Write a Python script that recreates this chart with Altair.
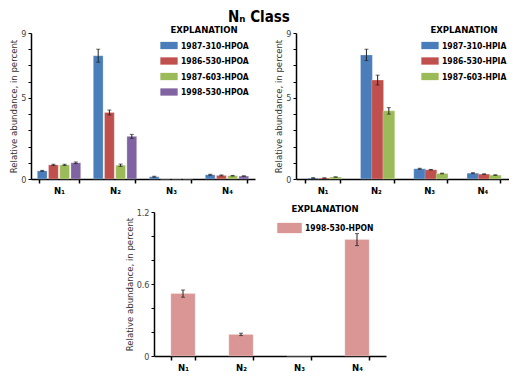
import altair as alt
import pandas as pd

categories = ["N₁", "N₂", "N₃", "N₄"]

hpoa_series = ["1987-310-HPOA", "1986-530-HPOA", "1987-603-HPOA", "1998-530-HPOA"]
hpoa_colors = ["#4a7ebb", "#c0504d", "#9bbb59", "#8064a2"]
hpoa_values = [
    [0.50, 7.60, 0.14, 0.26],
    [0.87, 4.10, 0.00, 0.22],
    [0.87, 0.85, 0.00, 0.20],
    [1.00, 2.63, 0.00, 0.18],
]
hpoa_errors = [
    [0.03, 0.40, 0.03, 0.03],
    [0.04, 0.15, 0.00, 0.03],
    [0.04, 0.07, 0.00, 0.02],
    [0.05, 0.12, 0.00, 0.02],
]

hpia_series = ["1987-310-HPIA", "1986-530-HPIA", "1987-603-HPIA"]
hpia_colors = ["#4a7ebb", "#c0504d", "#9bbb59"]
hpia_values = [
    [0.06, 7.65, 0.63, 0.36],
    [0.06, 6.10, 0.57, 0.30],
    [0.12, 4.20, 0.34, 0.24],
]
hpia_errors = [
    [0.02, 0.35, 0.03, 0.03],
    [0.01, 0.30, 0.02, 0.02],
    [0.01, 0.20, 0.02, 0.02],
]

hpon_series = ["1998-530-HPON"]
hpon_colors = ["#d99694"]
hpon_values = [[0.52, 0.18, 0.00, 0.97]]
hpon_errors = [[0.03, 0.01, 0.00, 0.05]]

FONT = "'DejaVu Sans Condensed', 'Roboto', sans-serif"

RES = dict(x="independent", y="independent", color="independent")


def make_df(series, values, errors):
    rows = []
    for s, vals, errs in zip(series, values, errors):
        for c, v, e in zip(categories, vals, errs):
            rows.append({"cat": c, "series": s, "value": v, "err": e,
                         "lo": v - e, "hi": v + e})
    return pd.DataFrame(rows)


def panel(series, colors, values, errors, width, height, ymax, tick_vals,
          label_vals, pad, legend_x, sym_size, cap):
    df = make_df(series, values, errors)
    conds = " || ".join("abs(datum.value - %s) < 1e-6" % v for v in label_vals)
    label_expr = "(" + conds + ") ? (datum.value == 0 ? '0' : format(datum.value, '.2~f')) : ''"
    step = width / (len(categories) - pad + pad)
    bar_w = step * (1 - pad) / len(series)
    x = alt.X("cat:N", sort=categories, title=None,
              scale=alt.Scale(type="band", paddingInner=pad, paddingOuter=pad / 2),
              axis=alt.Axis(tickBand="extent", labelAngle=0, labelFontWeight="bold",
                            labelFontSize=9.5, labelColor="#000", domainColor="#000",
                            domainWidth=1.5, tickColor="#000", tickWidth=1.5,
                            tickSize=4, labelPadding=2))
    yscale = alt.Scale(domain=[0, ymax], nice=False, zero=True)
    yaxis = alt.Axis(values=tick_vals, labelExpr=label_expr, grid=False,
                     labelOverlap=False, labelFlush=False,
                     labelFontSize=9, labelColor="#444", domainColor="#000",
                     domainWidth=1.5, tickColor="#000", tickWidth=1,
                     tickSize=3, titleFontSize=9.5, titleFontWeight="normal",
                     titleColor="#333", titlePadding=2, labelPadding=2)
    ytitle = "Relative abundance, in percent"
    Y = lambda f: alt.Y(f, title=ytitle, scale=yscale, axis=yaxis)
    xo = alt.XOffset("series:N", sort=series,
                     scale=alt.Scale(type="band", paddingInner=0, paddingOuter=0))
    color = alt.Color("series:N", sort=series,
                      scale=alt.Scale(domain=series, range=colors),
                      legend=alt.Legend(title="EXPLANATION", orient="none",
                                        legendX=legend_x, legendY=-8,
                                        titleFontSize=9.5, titleFontWeight="bold",
                                        titleColor="#000", titleAnchor="middle",
                                        titlePadding=2,
                                        labelFontSize=8.5, labelFontWeight="bold",
                                        labelColor="#000", labelOffset=3,
                                        symbolType="M-1,-0.42H1V0.42H-1Z",
                                        symbolSize=sym_size, symbolStrokeWidth=0,
                                        symbolOpacity=1, rowPadding=1.5))
    base = alt.Chart(df)
    enc = dict(x=x)
    if len(series) > 1:
        enc["xOffset"] = xo
    bars = base.mark_bar(width=bar_w, stroke="#ffffff", strokeOpacity=0.5,
                         strokeWidth=0.5).encode(y=Y("value:Q"), color=color, **enc)
    err_df = df[df["err"] > 0]
    eb = alt.Chart(err_df)
    rules = eb.mark_rule(color="#222", strokeWidth=1).encode(
        y=Y("lo:Q"), y2="hi:Q", **enc)
    cap_hi = eb.mark_tick(color="#222", thickness=1, size=cap, orient="horizontal").encode(
        y=Y("hi:Q"), **enc)
    cap_lo = eb.mark_tick(color="#222", thickness=1, size=cap, orient="horizontal").encode(
        y=Y("lo:Q"), **enc)
    return alt.layer(bars, rules, cap_hi, cap_lo).properties(width=width, height=height)


p1 = panel(hpoa_series, hpoa_colors, hpoa_values, hpoa_errors, 224, 146, 9,
           list(range(10)), [0, 5, 9], 0.3, 129, 300, 4)
p2 = panel(hpia_series, hpia_colors, hpia_values, hpia_errors, 213, 146, 9,
           list(range(10)), [0, 5, 9], 0.33, 125, 300, 4)
p3 = panel(hpon_series, hpon_colors, hpon_values, hpon_errors, 232, 144, 1.2,
           [0, 0.2, 0.4, 0.6, 0.8, 1.0, 1.2], [0, 0.6, 1.2], 0.58, 123, 600, 4)

top = alt.hconcat(p1, p2, spacing=18).resolve_scale(**RES)
chart = alt.vconcat(top, p3, spacing=9, center=True).resolve_scale(**RES).properties(
    title=alt.TitleParams("Nₙ Class", fontSize=15, fontWeight="bold", color="#000",
                          anchor="middle", offset=0, font=FONT)
).configure(font=FONT, padding={"top": 2, "left": 0, "right": 0, "bottom": 0}
).configure_view(strokeWidth=0)

chart.save("out.html", embed_options={"renderer": "svg", "actions": False})
